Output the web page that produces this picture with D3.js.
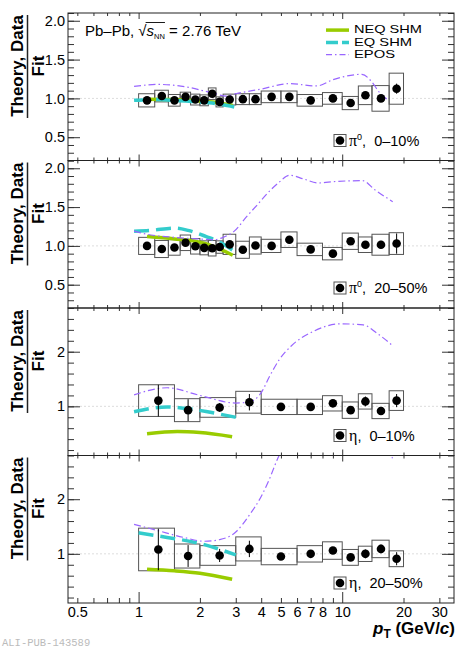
<!DOCTYPE html>
<html>
<head>
<meta charset="utf-8">
<script src="https://cdn.jsdelivr.net/npm/d3@7"></script>
<style>
  body { margin: 0; background: #fff; }
  svg { display: block; font-family: "Liberation Sans", Arial, sans-serif; }
  text { white-space: pre; }
</style>
</head>
<body>
<svg id="chart" width="472" height="650"></svg>
<script>
// pi0 bins (GeV/c)
const pi0PtLo = [1.0, 1.2, 1.4, 1.6, 1.8, 2.0, 2.2, 2.4, 2.6, 3.0, 3.5, 4, 5, 6, 8, 10, 12, 14, 17];
const pi0PtHi = [1.2, 1.4, 1.6, 1.8, 2.0, 2.2, 2.4, 2.6, 3.0, 3.5, 4, 5, 6, 8, 10, 12, 14, 17, 20];
const pi0Pt   = [1.1, 1.3, 1.5, 1.7, 1.9, 2.1, 2.3, 2.5, 2.8, 3.25, 3.75, 4.5, 5.5, 7, 9, 11, 13, 15.5, 18.5];

// eta bins
const etaPtLo = [1.0, 1.5, 2, 3, 4, 6, 8, 10, 12, 14, 17];
const etaPtHi = [1.5, 2, 3, 4, 6, 8, 10, 12, 14, 17, 20];
const etaPt   = [1.25, 1.75, 2.5, 3.5, 5, 7, 9, 11, 13, 15.5, 18.5];

// data / fit ratios
const pi0Ratio0010 = [0.975, 1.03, 0.975, 1.02, 0.985, 0.975, 1.06, 0.955, 0.985, 0.99, 0.99, 1.02, 1.02, 0.975, 1.0, 0.94, 1.04, 1.0, 1.125];
const pi0Sys0010   = [0.085, 0.075, 0.075, 0.06, 0.07, 0.07, 0.075, 0.065, 0.07, 0.07, 0.07, 0.075, 0.075, 0.075, 0.075, 0.085, 0.12, 0.165, 0.2];
const pi0Stat0010  = [0.01, 0.01, 0.01, 0.01, 0.01, 0.01, 0.01, 0.01, 0.01, 0.01, 0.01, 0.01, 0.015, 0.015, 0.02, 0.025, 0.03, 0.04, 0.065];

const pi0Ratio2050 = [1.0, 0.96, 0.98, 1.04, 0.995, 0.975, 0.97, 0.985, 1.02, 0.95, 1.005, 1.0, 1.08, 0.955, 0.9, 1.06, 1.015, 1.015, 1.03];
const pi0Sys2050   = [0.11, 0.11, 0.1, 0.1, 0.1, 0.09, 0.1, 0.08, 0.13, 0.11, 0.11, 0.085, 0.1, 0.08, 0.08, 0.105, 0.1, 0.135, 0.14];
const pi0Stat2050  = [0.01, 0.01, 0.01, 0.01, 0.01, 0.01, 0.01, 0.01, 0.01, 0.01, 0.01, 0.01, 0.015, 0.02, 0.02, 0.03, 0.04, 0.05, 0.13];

const etaRatio0010 = [1.105, 0.93, 0.98, 1.075, 0.99, 0.99, 1.055, 0.93, 1.09, 0.915, 1.105];
const etaSys0010   = [0.29, 0.21, 0.18, 0.2, 0.14, 0.14, 0.14, 0.15, 0.14, 0.14, 0.18];
const etaStat0010  = [0.29, 0.2, 0.08, 0.15, 0.03, 0.03, 0.05, 0.05, 0.09, 0.06, 0.12];

const etaRatio2050 = [1.08, 0.96, 0.97, 1.09, 0.95, 1.0, 1.06, 0.935, 1.0, 1.09, 0.91];
const etaSys2050   = [0.39, 0.22, 0.18, 0.22, 0.15, 0.15, 0.16, 0.145, 0.14, 0.16, 0.145];
const etaStat2050  = [0.38, 0.2, 0.12, 0.15, 0.04, 0.04, 0.05, 0.04, 0.08, 0.08, 0.12];

// model curves: [pT, theory/fit]
const neqPi0_0010 = [[1.1, 0.99], [1.5, 0.985], [2.0, 0.965], [2.5, 0.94], [2.9, 0.91]];
const eqPi0_0010  = [[0.95, 0.975], [1.2, 0.985], [1.7, 0.965], [2.3, 0.94], [2.95, 0.89]];
const eposPi0_0010 = [[0.95, 1.155], [1.25, 1.18], [1.7, 1.15], [2.3, 1.07], [2.7, 1.03], [3.0, 1.06], [4.0, 1.12], [5.5, 1.19], [7.5, 1.16], [9, 1.24], [12.5, 1.31], [14, 1.21], [15.2, 1.08], [16.8, 0.98]];

const neqPi0_2050 = [[1.1, 1.12], [1.5, 1.09], [1.9, 1.06], [2.3, 1.0], [2.9, 0.88]];
const eqPi0_2050  = [[0.95, 1.19], [1.15, 1.2], [1.5, 1.23], [1.75, 1.2], [2.15, 1.12], [2.5, 1.05], [2.95, 0.93]];
const eposPi0_2050 = [[0.95, 1.19], [1.15, 1.14], [1.5, 1.11], [1.95, 1.09], [2.35, 1.08], [2.6, 1.11], [2.95, 1.19], [3.4, 1.38], [3.8, 1.52], [4.3, 1.68], [4.9, 1.82], [5.5, 1.91], [6.5, 1.86], [7.6, 1.81], [9.3, 1.83], [12.6, 1.84], [14.5, 1.72], [17.7, 1.57]];

const neqEta_0010 = [[1.1, 0.5], [1.55, 0.54], [2.0, 0.52], [2.88, 0.445]];
const eqEta_0010  = [[0.95, 0.9], [1.38, 0.99], [1.73, 0.96], [2.25, 0.89], [3.0, 0.8]];
const eposEta_0010 = [[0.95, 1.21], [1.38, 1.34], [2.0, 1.2], [3.0, 1.06], [3.5, 1.08], [4.0, 1.25], [4.4, 1.55], [4.9, 1.85], [5.6, 2.1], [7.2, 2.37], [9.8, 2.51], [12.7, 2.49], [14.8, 2.34], [17.7, 2.11]];

const neqEta_2050 = [[1.1, 0.72], [1.5, 0.69], [2.0, 0.645], [2.88, 0.535]];
const eqEta_2050  = [[1.0, 1.385], [1.38, 1.3], [2.0, 1.19], [3.0, 0.98]];
const eposEta_2050 = [[0.95, 1.54], [1.23, 1.43], [1.67, 1.3], [2.1, 1.23], [2.5, 1.26], [3.0, 1.4], [3.5, 1.71], [4.0, 2.05], [4.3, 2.29], [4.9, 2.8], [5.5, 3.1], [7, 3.3], [10, 3.4], [13, 3.3], [15.5, 3.0], [17.7, 2.75]];

// axis ticks
const xMajorTicks = [1, 10];
const xMinorTicks = [0.5, 0.6, 0.7, 0.8, 0.9, 2, 3, 4, 5, 6, 7, 8, 9, 20, 30];
const xTickLabels = [0.5, 1, 2, 3, 4, 5, 6, 7, 8, 10, 20, 30];
const yMajorPi0 = [0.5, 1.0, 1.5, 2.0];
const yMinorPi0 = d3.range(2, 22).map(d => d / 10);
const yMajorEta = [1, 2];
const yMinorEta = d3.range(1, 15).map(d => d / 5);

const panelLabels = [["π", "0", ",  0–10%"], ["π", "0", ",  20–50%"], ["η", "", ",  0–10%"], ["η", "", ",  20–50%"]];
const legendNames = ["NEQ SHM", "EQ SHM", "EPOS"];

const colNEQ = "#99cc00", colEQ = "#33cccc", colEPOS = "#9966ff";

const svg = d3.select("#chart");
const left = 68, right = 454, top0 = 13, ph = 147.5;

const x = d3.scaleLog().domain([0.45, 35.4]).range([left, right]);

const panels = [
  {pt: pi0Pt, lo: pi0PtLo, hi: pi0PtHi, val: pi0Ratio0010, sys: pi0Sys0010, stat: pi0Stat0010,
   neq: neqPi0_0010, eq: eqPi0_0010, epos: eposPi0_0010, dom: [0.2, 2.1], maj: yMajorPi0, min: yMinorPi0, fmt: d3.format(".1f")},
  {pt: pi0Pt, lo: pi0PtLo, hi: pi0PtHi, val: pi0Ratio2050, sys: pi0Sys2050, stat: pi0Stat2050,
   neq: neqPi0_2050, eq: eqPi0_2050, epos: eposPi0_2050, dom: [0.2, 2.1], maj: yMajorPi0, min: yMinorPi0, fmt: d3.format(".1f")},
  {pt: etaPt, lo: etaPtLo, hi: etaPtHi, val: etaRatio0010, sys: etaSys0010, stat: etaStat0010,
   neq: neqEta_0010, eq: eqEta_0010, epos: eposEta_0010, dom: [0.1, 2.8], maj: yMajorEta, min: yMinorEta, fmt: d3.format("d")},
  {pt: etaPt, lo: etaPtLo, hi: etaPtHi, val: etaRatio2050, sys: etaSys2050, stat: etaStat2050,
   neq: neqEta_2050, eq: eqEta_2050, epos: eposEta_2050, dom: [0.1, 2.8], maj: yMajorEta, min: yMinorEta, fmt: d3.format("d")}
];

panels.forEach((p, k) => {
  const top = top0 + k * ph, bot = top + ph;
  const y = d3.scaleLinear().domain(p.dom).range([bot, top]);
  const g = svg.append("g");

  svg.append("clipPath").attr("id", "clip" + k)
    .append("rect").attr("x", left).attr("y", top).attr("width", right - left).attr("height", ph);

  // line at 1
  g.append("line").attr("x1", left).attr("x2", right).attr("y1", y(1)).attr("y2", y(1))
    .attr("stroke", "#ddd").attr("stroke-dasharray", "2,2");

  const idx = d3.range(p.pt.length);

  // systematic boxes
  g.selectAll("rect.sys").data(idx).join("rect")
    .attr("x", i => x(p.lo[i])).attr("width", i => x(p.hi[i]) - x(p.lo[i]))
    .attr("y", i => y(p.val[i] + p.sys[i])).attr("height", i => y(p.val[i] - p.sys[i]) - y(p.val[i] + p.sys[i]))
    .attr("fill", "none").attr("stroke", "#555").attr("stroke-width", 1);

  const line = d3.line().x(d => x(d[0])).y(d => y(d[1])).curve(d3.curveMonotoneX);
  const cg = g.append("g").attr("clip-path", `url(#clip${k})`);
  cg.append("path").attr("d", line(p.neq)).attr("fill", "none").attr("stroke", colNEQ).attr("stroke-width", 3.5);
  cg.append("path").attr("d", line(p.eq)).attr("fill", "none").attr("stroke", colEQ).attr("stroke-width", 3.5)
    .attr("stroke-dasharray", "15,7");
  cg.append("path").attr("d", line(p.epos)).attr("fill", "none").attr("stroke", colEPOS).attr("stroke-width", 1.2)
    .attr("stroke-dasharray", "7,3,1.5,3");

  // stat bars and points
  g.selectAll("line.stat").data(idx).join("line")
    .attr("x1", i => x(p.pt[i])).attr("x2", i => x(p.pt[i]))
    .attr("y1", i => y(p.val[i] + p.stat[i])).attr("y2", i => y(p.val[i] - p.stat[i]))
    .attr("stroke", "#000").attr("stroke-width", 1);
  g.selectAll("circle").data(idx).join("circle")
    .attr("cx", i => x(p.pt[i])).attr("cy", i => y(p.val[i])).attr("r", 4.3).attr("fill", "#000");

  // y axes
  const tickStyle = s => { s.select(".domain").remove(); s.selectAll("line").attr("stroke", "#333"); };
  g.append("g").attr("transform", `translate(${left},0)`)
    .call(d3.axisLeft(y).tickValues(p.min).tickSize(-6).tickFormat("")).call(tickStyle);
  g.append("g").attr("transform", `translate(${left},0)`)
    .call(d3.axisLeft(y).tickValues(p.maj).tickSize(-12).tickPadding(3).tickFormat(p.fmt)).call(tickStyle)
    .selectAll("text").attr("font-size", 14.5).attr("font-family", "Liberation Sans").attr("fill", "#000");
  g.append("g").attr("transform", `translate(${right},0)`)
    .call(d3.axisRight(y).tickValues(p.min).tickSize(-6).tickFormat("")).call(tickStyle);
  g.append("g").attr("transform", `translate(${right},0)`)
    .call(d3.axisRight(y).tickValues(p.maj).tickSize(-12).tickFormat("")).call(tickStyle);

  // x ticks, top and bottom
  const last = k === 3;
  g.append("g").attr("transform", `translate(0,${top})`)
    .call(d3.axisTop(x).tickValues(xMinorTicks).tickSize(-3).tickFormat("")).call(tickStyle);
  g.append("g").attr("transform", `translate(0,${top})`)
    .call(d3.axisTop(x).tickValues(xMajorTicks).tickSize(-6).tickFormat("")).call(tickStyle);
  g.append("g").attr("transform", `translate(0,${bot})`)
    .call(d3.axisBottom(x).tickValues(xMinorTicks).tickSize(last ? -5 : -3).tickFormat("")).call(tickStyle);
  g.append("g").attr("transform", `translate(0,${bot})`)
    .call(d3.axisBottom(x).tickValues(xMajorTicks).tickSize(last ? -11 : -6).tickFormat("")).call(tickStyle);

  if (last) {
    g.append("g").attr("transform", `translate(0,${bot})`)
      .call(d3.axisBottom(x).tickValues(xTickLabels).tickSize(0).tickPadding(4).tickFormat(d3.format("")))
      .call(s => s.select(".domain").remove())
      .selectAll("text").attr("font-size", 14.5).attr("font-family", "Liberation Sans").attr("fill", "#000");
  }

  // frame
  g.append("rect").attr("x", left).attr("y", top).attr("width", right - left).attr("height", ph)
    .attr("fill", "none").attr("stroke", "#222").attr("stroke-width", 1);

  // y title
  g.append("text").attr("transform", `translate(23,${top + 53}) rotate(-90)`).attr("text-anchor", "middle")
    .attr("font-weight", "bold").attr("font-size", 17).text("Theory, Data");
  g.append("line").attr("x1", 27.5).attr("x2", 27.5).attr("y1", top + 2).attr("y2", top + 105)
    .attr("stroke", "#222").attr("stroke-width", 1.5);
  g.append("text").attr("transform", `translate(43.5,${top + 53}) rotate(-90)`).attr("text-anchor", "middle")
    .attr("font-weight", "bold").attr("font-size", 17).text("Fit");

  // panel label
  const lb = bot - 15;
  g.append("rect").attr("x", 334).attr("y", lb - 11).attr("width", 12).attr("height", 12)
    .attr("fill", "none").attr("stroke", "#555");
  g.append("circle").attr("cx", 340).attr("cy", lb - 5).attr("r", 4.3).attr("fill", "#000");
  const lab = panelLabels[k];
  const t = g.append("text").attr("x", 349).attr("y", lb).attr("font-size", 14.5);
  t.append("tspan").attr("font-family", "Liberation Serif").attr("font-size", 16).text(lab[0]);
  if (lab[1]) {
    t.append("tspan").attr("font-size", 9).attr("dy", -6).text(lab[1]);
    t.append("tspan").attr("dy", 6).text(lab[2]);
  } else {
    t.append("tspan").text(lab[2]);
  }
});

// legend
const legendStyle = [[colNEQ, 3.5, null, 68], [colEQ, 3.5, "12,4", 58], [colEPOS, 1.2, "6,3,1.5,3", 41]];
legendNames.forEach((name, i) => {
  const st = legendStyle[i];
  const yb = 33.3 + i * 12.3;
  svg.append("line").attr("x1", 326).attr("x2", 349).attr("y1", yb - 3.2).attr("y2", yb - 3.2)
    .attr("stroke", st[0]).attr("stroke-width", st[1]).attr("stroke-dasharray", st[2]);
  svg.append("text").attr("x", 354).attr("y", yb).attr("font-size", 11.5)
    .attr("textLength", st[3]).attr("lengthAdjust", "spacingAndGlyphs").text(name);
});

// system label
const sys = svg.append("text").attr("x", 85).attr("y", 35.5).attr("font-size", 15);
sys.append("tspan").text("Pb–Pb, √");
sys.append("tspan").attr("font-style", "italic").text("s");
sys.append("tspan").attr("font-size", 7.5).attr("dy", 3).text("NN");
sys.append("tspan").attr("dy", -3).text(" = 2.76 TeV");
const n0 = "Pb–Pb, √".length;
const sx0 = sys.node().getStartPositionOfChar(n0).x;
const sx1 = sys.node().getEndPositionOfChar(n0 + 2).x;
svg.append("line").attr("x1", sx0 - 1).attr("x2", sx1).attr("y1", 22.5).attr("y2", 22.5).attr("stroke", "#000").attr("stroke-width", 0.9);

// x title
const xt = svg.append("text").attr("x", 455).attr("y", 634).attr("text-anchor", "end")
  .attr("font-size", 17).attr("font-weight", "bold");
xt.append("tspan").attr("font-style", "italic").text("p");
xt.append("tspan").attr("font-size", 12).attr("dy", 4).text("T");
xt.append("tspan").attr("dy", -4).text(" (GeV/");
xt.append("tspan").attr("font-style", "italic").text("c");
xt.append("tspan").text(")");

svg.append("text").attr("x", 2).attr("y", 646).attr("font-family", "Liberation Mono")
  .attr("font-size", 10.5).attr("fill", "#bbb").text("ALI-PUB-143589");
</script>
</body>
</html>
